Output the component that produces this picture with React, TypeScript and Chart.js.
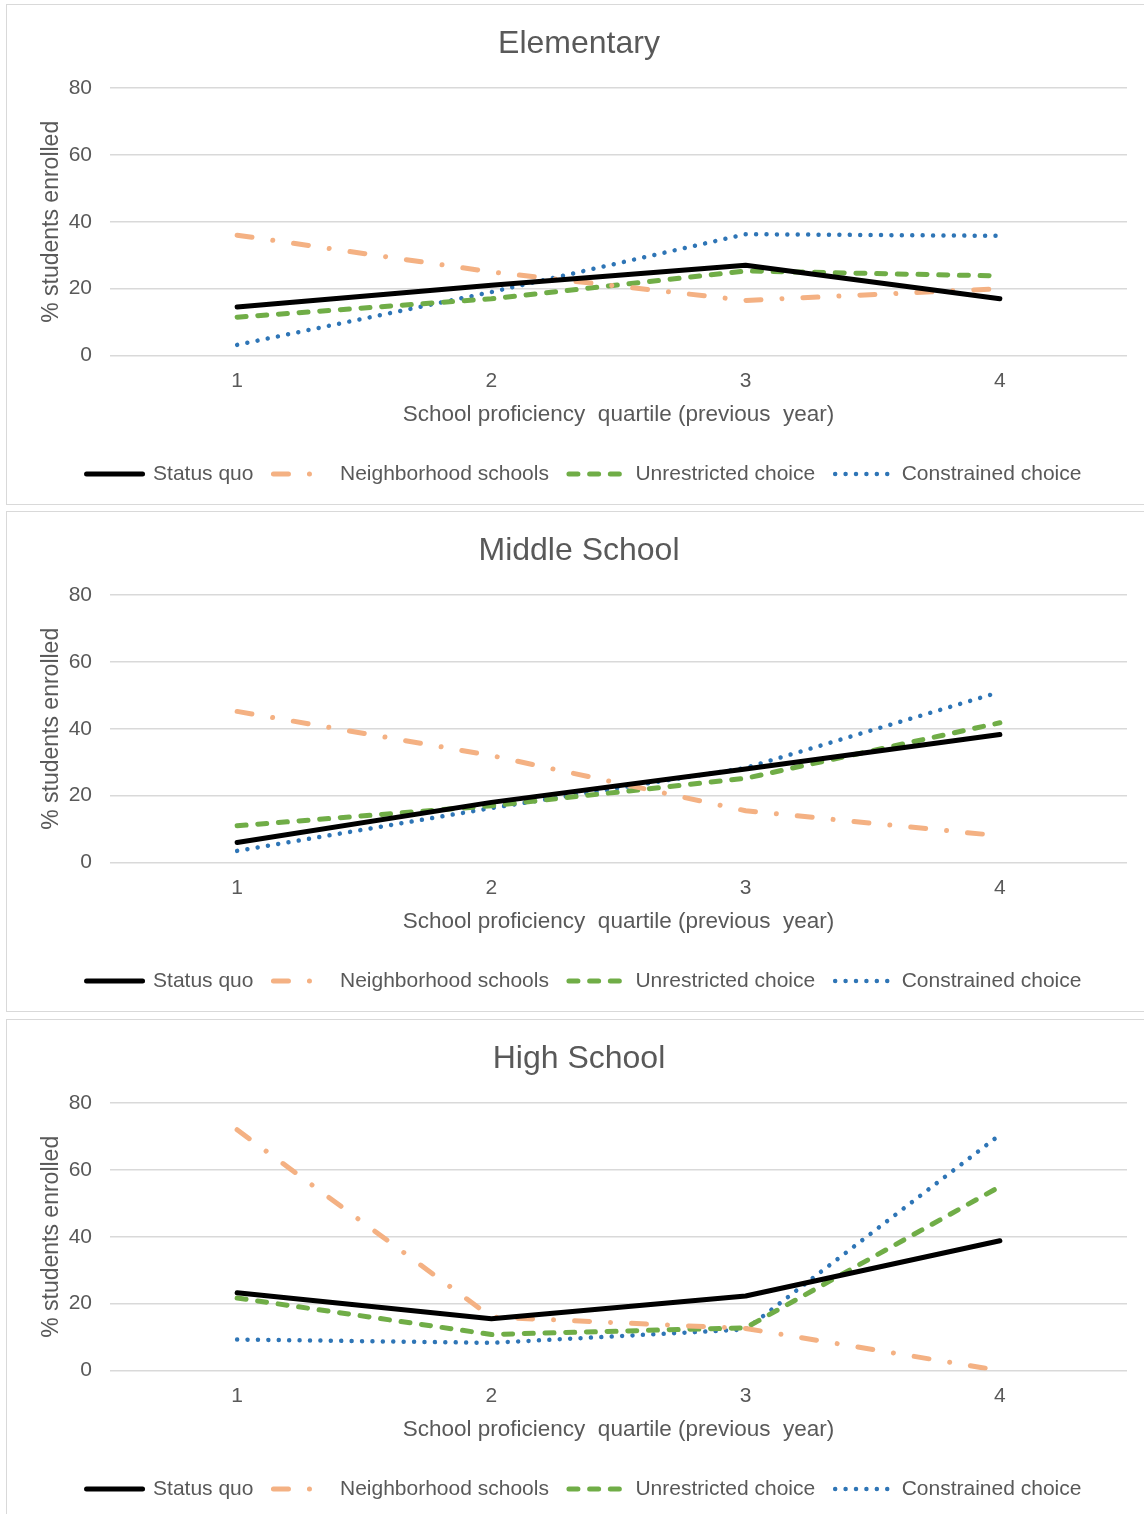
import React, { useEffect, useRef } from "react";
import Chart from "chart.js/auto";

const categories = ["1", "2", "3", "4"];
const seriesNames = ["Status quo", "Neighborhood schools", "Unrestricted choice", "Constrained choice"];

const elemStatusQuo = [14.5, 21, 27, 17];
const elemNeighborhood = [36, 25, 16.5, 20];
const elemUnrestricted = [11.5, 17, 25.3, 23.8];
const elemConstrained = [3.2, 19, 36.3, 35.8];

const midStatusQuo = [6, 18, 28, 38.3];
const midNeighborhood = [45.2, 32, 15.5, 8];
const midUnrestricted = [11, 17, 25.2, 41.8];
const midConstrained = [3.5, 16.3, 28.3, 51];

const highStatusQuo = [23.3, 15.5, 22.3, 38.8];
const highNeighborhood = [72, 16, 12.6, 0];
const highUnrestricted = [21.7, 10.8, 12.8, 55];
const highConstrained = [9.3, 8.3, 12.3, 70.5];

const yTicks = [0, 20, 40, 60, 80];

const FONT = "'Liberation Sans', Arial, sans-serif";
const TEXT = "#595959";
const GRID = "#d9d9d9";

const styles = [
  { color: "#000000", width: 5, dash: [] as number[] },
  { color: "#f4b183", width: 5, dash: [15, 21, 0.01, 21] },
  { color: "#70ad47", width: 5, dash: [9, 11.7] },
  { color: "#2e75b6", width: 4.5, dash: [0.01, 10.4] },
];

const legendShift = {
  id: "legendShift",
  afterLayout(chart: any) {
    if (chart.legend) {
      chart.legend.left += 5;
      chart.legend.right += 5;
    }
  },
};

function Panel({ title, series, top }: { title: string; series: number[][]; top: number }) {
  const ref = useRef<HTMLCanvasElement | null>(null);
  useEffect(() => {
    if (!ref.current) return;
    const chart = new Chart(ref.current, {
      type: "line",
      data: {
        labels: categories,
        datasets: series.map((d, i) => ({
          label: seriesNames[i],
          data: d,
          borderColor: styles[i].color,
          backgroundColor: styles[i].color,
          borderWidth: styles[i].width,
          borderDash: styles[i].dash,
          borderCapStyle: "round" as const,
          borderJoinStyle: "round" as const,
          pointRadius: 0,
          pointHoverRadius: 0,
          tension: 0,
          yAxisID: "y",
        })),
      },
      plugins: [legendShift],
      options: {
        responsive: false,
        animation: false,
        events: [],
        layout: { padding: { left: 0, right: 0, top: 0, bottom: 9.5 } },
        plugins: {
          title: {
            display: true,
            text: title,
            color: TEXT,
            font: { family: FONT, size: 32, weight: "normal" },
            padding: { top: 20, bottom: 24.6 },
          },
          legend: {
            position: "bottom",
            labels: {
              usePointStyle: true,
              pointStyleWidth: 56,
              boxHeight: 5,
              padding: 20,
              color: TEXT,
              font: { family: FONT, size: 21 },
              generateLabels: (ch: any) =>
                ch.data.datasets.map((ds: any, i: number) => ({
                  text: ds.label,
                  fillStyle: "rgba(0,0,0,0)",
                  strokeStyle: ds.borderColor,
                  lineWidth: ds.borderWidth,
                  lineDash: ds.borderDash,
                  lineCap: "round",
                  lineJoin: "round",
                  pointStyle: "line",
                  hidden: false,
                  datasetIndex: i,
                  fontColor: TEXT,
                })),
            },
          },
          tooltip: { enabled: false },
        },
        scales: {
          x: {
            offset: true,
            grid: { display: false, drawTicks: false },
            border: { display: false },
            ticks: { color: TEXT, font: { family: FONT, size: 21 }, padding: 13 },
            title: {
              display: true,
              text: "School proficiency  quartile (previous  year)",
              color: TEXT,
              font: { family: FONT, size: 22.5 },
              padding: { top: -6, bottom: 15.7 },
            },
          },
          y: {
            position: "left",
            min: yTicks[0],
            max: yTicks[yTicks.length - 1],
            afterFit: (scale: any) => {
              scale.width = 103;
            },
            afterBuildTicks: (scale: any) => {
              scale.ticks = yTicks.map((v) => ({ value: v }));
            },
            grid: { color: GRID, lineWidth: 1.5, drawTicks: false },
            border: { display: false },
            ticks: { color: TEXT, font: { family: FONT, size: 21 }, padding: 18 },
            title: {
              display: true,
              text: "% students enrolled",
              color: TEXT,
              font: { family: FONT, size: 23 },
              padding: { top: 31, bottom: 0 },
            },
          },
          yRight: {
            type: "linear",
            position: "right",
            display: true,
            afterFit: (scale: any) => {
              scale.width = 24;
            },
            grid: { display: false, drawTicks: false },
            border: { display: false },
            ticks: { display: false },
          },
        },
      },
    });
    return () => chart.destroy();
  }, [title, series]);
  return (
    <div
      style={{
        position: "absolute",
        left: 6,
        top,
        width: 1160,
        height: 499,
        border: `1px solid ${GRID}`,
        background: "#fff",
      }}
    >
      <canvas ref={ref} width={1144} height={499} style={{ display: "block", width: 1144, height: 499 }} />
    </div>
  );
}

const elemSeries = [elemStatusQuo, elemNeighborhood, elemUnrestricted, elemConstrained];
const midSeries = [midStatusQuo, midNeighborhood, midUnrestricted, midConstrained];
const highSeries = [highStatusQuo, highNeighborhood, highUnrestricted, highConstrained];

export default function App() {
  return (
    <div
      style={{
        position: "absolute",
        left: 0,
        top: 0,
        width: 1144,
        height: 1514,
        overflow: "hidden",
        background: "#fff",
      }}
    >
      <Panel title="Elementary" series={elemSeries} top={4} />
      <Panel title="Middle School" series={midSeries} top={511} />
      <Panel title="High School" series={highSeries} top={1019} />
    </div>
  );
}
